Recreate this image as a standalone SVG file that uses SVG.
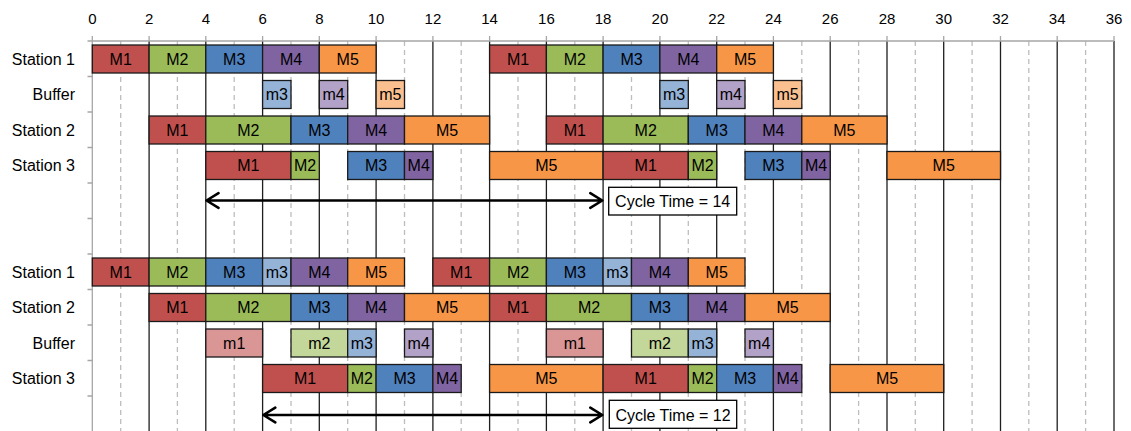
<svg xmlns="http://www.w3.org/2000/svg" width="1131" height="431" viewBox="0 0 1131 431">
  <style>
    text { font-family: "Liberation Sans", Arial, sans-serif; fill: #000; }
    .ax { font-size: 15px; text-anchor: middle; }
    .row { font-size: 16px; text-anchor: end; }
    .lb { font-size: 16px; text-anchor: middle; }
    .bar { stroke: #1a1a1a; stroke-width: 1.3; }
    .M1 { fill: #C0504D; } .M2 { fill: #9BBB59; } .M3 { fill: #4F81BD; } .M4 { fill: #8064A2; } .M5 { fill: #F79646; }
    .m1 { fill: #DA9694; } .m2 { fill: #C4D79B; } .m3 { fill: #95B3D7; } .m4 { fill: #B3A2C7; } .m5 { fill: #FAC090; }
    .even { stroke: #1f1f1f; stroke-width: 1.3; }
    .odd { stroke: #BDBDBD; stroke-width: 1.3; stroke-dasharray: 5 4; }
    .axis { stroke: #A6A6A6; stroke-width: 1.3; fill: none; }
    .arrow { stroke: #000; stroke-width: 2.6; fill: none; stroke-linecap: round; stroke-linejoin: round; }
    .note { fill: #fff; stroke: #000; stroke-width: 1.3; }
  </style>

  <!-- time axis and grid -->
  <g id="grid">
    <g class="ax">
      <text x="92.3" y="23.5">0</text><text x="149.1" y="23.5">2</text><text x="205.8" y="23.5">4</text>
      <text x="262.6" y="23.5">6</text><text x="319.3" y="23.5">8</text><text x="376.1" y="23.5">10</text>
      <text x="432.9" y="23.5">12</text><text x="489.6" y="23.5">14</text><text x="546.4" y="23.5">16</text>
      <text x="603.1" y="23.5">18</text><text x="659.9" y="23.5">20</text><text x="716.7" y="23.5">22</text>
      <text x="773.4" y="23.5">24</text><text x="830.2" y="23.5">26</text><text x="887.0" y="23.5">28</text>
      <text x="943.7" y="23.5">30</text><text x="1000.5" y="23.5">32</text><text x="1057.2" y="23.5">34</text>
      <text x="1114.0" y="23.5">36</text>
    </g>
    <path class="odd" d="M120.7 41V431M177.4 41V431M234.2 41V431M291.0 41V431M347.7 41V431M404.5 41V431M461.2 41V431M518.0 41V431M574.8 41V431M631.5 41V431M688.3 41V431M745.0 41V431M801.8 41V431M858.6 41V431M915.3 41V431M972.1 41V431M1028.8 41V431M1085.6 41V431"/>
    <path class="even" d="M149.1 41V431M205.8 41V431M262.6 41V431M319.3 41V431M376.1 41V431M432.9 41V431M489.6 41V431M546.4 41V431M603.1 41V431M659.9 41V431M716.7 41V431M773.4 41V431M830.2 41V431M887.0 41V431M943.7 41V431M1000.5 41V431M1057.2 41V431M1114.0 41V431"/>
    <path class="axis" d="M92.3 41H1114M92.3 41V431M92.3 36V41M149.1 36V41M205.8 36V41M262.6 36V41M319.3 36V41M376.1 36V41M432.9 36V41M489.6 36V41M546.4 36V41M603.1 36V41M659.9 36V41M716.7 36V41M773.4 36V41M830.2 36V41M887.0 36V41M943.7 36V41M1000.5 36V41M1057.2 36V41M1114.0 36V41"/>
    <path class="axis" d="M87.5 41H92.3M87.5 76.5H92.3M87.5 112H92.3M87.5 147.5H92.3M87.5 183H92.3M87.5 218.5H92.3M87.5 254H92.3M87.5 289.5H92.3M87.5 325H92.3M87.5 360.5H92.3M87.5 396H92.3"/>
  </g>

  <!-- row names -->
  <g id="row-names" class="row">
    <text x="75" y="64.5">Station 1</text>
    <text x="75" y="100">Buffer</text>
    <text x="75" y="135.5">Station 2</text>
    <text x="75" y="171">Station 3</text>
    <text x="75" y="277.5">Station 1</text>
    <text x="75" y="313">Station 2</text>
    <text x="75" y="348.5">Buffer</text>
    <text x="75" y="384">Station 3</text>
  </g>

  <!-- schedule A: station 1 -->
  <g id="a-s1">
    <g id="a-s1-M1"><rect class="bar M1" x="92.3" y="45" width="56.8" height="28"/><text class="lb" x="120.7" y="64.5">M1</text></g>
    <g id="a-s1-M2"><rect class="bar M2" x="149.1" y="45" width="56.7" height="28"/><text class="lb" x="177.4" y="64.5">M2</text></g>
    <g id="a-s1-M3"><rect class="bar M3" x="205.8" y="45" width="56.8" height="28"/><text class="lb" x="234.2" y="64.5">M3</text></g>
    <g id="a-s1-M4"><rect class="bar M4" x="262.6" y="45" width="56.7" height="28"/><text class="lb" x="291.0" y="64.5">M4</text></g>
    <g id="a-s1-M5"><rect class="bar M5" x="319.3" y="45" width="56.8" height="28"/><text class="lb" x="347.7" y="64.5">M5</text></g>
    <g id="a-s1-M1b"><rect class="bar M1" x="489.6" y="45" width="56.8" height="28"/><text class="lb" x="518.0" y="64.5">M1</text></g>
    <g id="a-s1-M2b"><rect class="bar M2" x="546.4" y="45" width="56.7" height="28"/><text class="lb" x="574.8" y="64.5">M2</text></g>
    <g id="a-s1-M3b"><rect class="bar M3" x="603.1" y="45" width="56.8" height="28"/><text class="lb" x="631.5" y="64.5">M3</text></g>
    <g id="a-s1-M4b"><rect class="bar M4" x="659.9" y="45" width="56.8" height="28"/><text class="lb" x="688.3" y="64.5">M4</text></g>
    <g id="a-s1-M5b"><rect class="bar M5" x="716.7" y="45" width="56.7" height="28"/><text class="lb" x="745.0" y="64.5">M5</text></g>
  </g>

  <!-- schedule A: buffer -->
  <g id="a-buf">
    <g id="a-buf-m3"><rect class="bar m3" x="262.6" y="80.5" width="28.4" height="28"/><text class="lb" x="276.8" y="100">m3</text></g>
    <g id="a-buf-m4"><rect class="bar m4" x="319.3" y="80.5" width="28.4" height="28"/><text class="lb" x="333.5" y="100">m4</text></g>
    <g id="a-buf-m5"><rect class="bar m5" x="376.1" y="80.5" width="28.4" height="28"/><text class="lb" x="390.3" y="100">m5</text></g>
    <g id="a-buf-m3b"><rect class="bar m3" x="659.9" y="80.5" width="28.4" height="28"/><text class="lb" x="674.1" y="100">m3</text></g>
    <g id="a-buf-m4b"><rect class="bar m4" x="716.7" y="80.5" width="28.3" height="28"/><text class="lb" x="730.9" y="100">m4</text></g>
    <g id="a-buf-m5b"><rect class="bar m5" x="773.4" y="80.5" width="28.4" height="28"/><text class="lb" x="787.6" y="100">m5</text></g>
  </g>

  <!-- schedule A: station 2 -->
  <g id="a-s2">
    <g id="a-s2-M1"><rect class="bar M1" x="149.1" y="116" width="56.7" height="28"/><text class="lb" x="177.4" y="135.5">M1</text></g>
    <g id="a-s2-M2"><rect class="bar M2" x="205.8" y="116" width="85.2" height="28"/><text class="lb" x="248.4" y="135.5">M2</text></g>
    <g id="a-s2-M3"><rect class="bar M3" x="291.0" y="116" width="56.7" height="28"/><text class="lb" x="319.3" y="135.5">M3</text></g>
    <g id="a-s2-M4"><rect class="bar M4" x="347.7" y="116" width="56.8" height="28"/><text class="lb" x="376.1" y="135.5">M4</text></g>
    <g id="a-s2-M5"><rect class="bar M5" x="404.5" y="116" width="85.1" height="28"/><text class="lb" x="447.0" y="135.5">M5</text></g>
    <g id="a-s2-M1b"><rect class="bar M1" x="546.4" y="116" width="56.7" height="28"/><text class="lb" x="574.8" y="135.5">M1</text></g>
    <g id="a-s2-M2b"><rect class="bar M2" x="603.1" y="116" width="85.2" height="28"/><text class="lb" x="645.7" y="135.5">M2</text></g>
    <g id="a-s2-M3b"><rect class="bar M3" x="688.3" y="116" width="56.7" height="28"/><text class="lb" x="716.7" y="135.5">M3</text></g>
    <g id="a-s2-M4b"><rect class="bar M4" x="745.0" y="116" width="56.8" height="28"/><text class="lb" x="773.4" y="135.5">M4</text></g>
    <g id="a-s2-M5b"><rect class="bar M5" x="801.8" y="116" width="85.2" height="28"/><text class="lb" x="844.4" y="135.5">M5</text></g>
  </g>

  <!-- schedule A: station 3 -->
  <g id="a-s3">
    <g id="a-s3-M1"><rect class="bar M1" x="205.8" y="151.5" width="85.2" height="28"/><text class="lb" x="248.4" y="171">M1</text></g>
    <g id="a-s3-M2"><rect class="bar M2" x="291.0" y="151.5" width="28.3" height="28"/><text class="lb" x="305.1" y="171">M2</text></g>
    <g id="a-s3-M3"><rect class="bar M3" x="347.7" y="151.5" width="56.8" height="28"/><text class="lb" x="376.1" y="171">M3</text></g>
    <g id="a-s3-M4"><rect class="bar M4" x="404.5" y="151.5" width="28.4" height="28"/><text class="lb" x="418.7" y="171">M4</text></g>
    <g id="a-s3-M5"><rect class="bar M5" x="489.6" y="151.5" width="113.5" height="28"/><text class="lb" x="546.4" y="171">M5</text></g>
    <g id="a-s3-M1b"><rect class="bar M1" x="603.1" y="151.5" width="85.2" height="28"/><text class="lb" x="645.7" y="171">M1</text></g>
    <g id="a-s3-M2b"><rect class="bar M2" x="688.3" y="151.5" width="28.4" height="28"/><text class="lb" x="702.5" y="171">M2</text></g>
    <g id="a-s3-M3b"><rect class="bar M3" x="745.0" y="151.5" width="56.8" height="28"/><text class="lb" x="773.4" y="171">M3</text></g>
    <g id="a-s3-M4b"><rect class="bar M4" x="801.8" y="151.5" width="28.4" height="28"/><text class="lb" x="816.0" y="171">M4</text></g>
    <g id="a-s3-M5b"><rect class="bar M5" x="887.0" y="151.5" width="113.5" height="28"/><text class="lb" x="943.7" y="171">M5</text></g>
  </g>

  <!-- schedule B: station 1 -->
  <g id="b-s1">
    <g id="b-s1-M1"><rect class="bar M1" x="92.3" y="258" width="56.8" height="28"/><text class="lb" x="120.7" y="277.5">M1</text></g>
    <g id="b-s1-M2"><rect class="bar M2" x="149.1" y="258" width="56.7" height="28"/><text class="lb" x="177.4" y="277.5">M2</text></g>
    <g id="b-s1-M3"><rect class="bar M3" x="205.8" y="258" width="56.8" height="28"/><text class="lb" x="234.2" y="277.5">M3</text></g>
    <g id="b-s1-m3"><rect class="bar m3" x="262.6" y="258" width="28.4" height="28"/><text class="lb" x="276.8" y="277.5">m3</text></g>
    <g id="b-s1-M4"><rect class="bar M4" x="291.0" y="258" width="56.7" height="28"/><text class="lb" x="319.3" y="277.5">M4</text></g>
    <g id="b-s1-M5"><rect class="bar M5" x="347.7" y="258" width="56.8" height="28"/><text class="lb" x="376.1" y="277.5">M5</text></g>
    <g id="b-s1-M1b"><rect class="bar M1" x="432.9" y="258" width="56.7" height="28"/><text class="lb" x="461.2" y="277.5">M1</text></g>
    <g id="b-s1-M2b"><rect class="bar M2" x="489.6" y="258" width="56.8" height="28"/><text class="lb" x="518.0" y="277.5">M2</text></g>
    <g id="b-s1-M3b"><rect class="bar M3" x="546.4" y="258" width="56.7" height="28"/><text class="lb" x="574.8" y="277.5">M3</text></g>
    <g id="b-s1-m3b"><rect class="bar m3" x="603.1" y="258" width="28.4" height="28"/><text class="lb" x="617.3" y="277.5">m3</text></g>
    <g id="b-s1-M4b"><rect class="bar M4" x="631.5" y="258" width="56.8" height="28"/><text class="lb" x="659.9" y="277.5">M4</text></g>
    <g id="b-s1-M5b"><rect class="bar M5" x="688.3" y="258" width="56.7" height="28"/><text class="lb" x="716.7" y="277.5">M5</text></g>
  </g>

  <!-- schedule B: station 2 -->
  <g id="b-s2">
    <g id="b-s2-M1"><rect class="bar M1" x="149.1" y="293.5" width="56.7" height="28"/><text class="lb" x="177.4" y="313">M1</text></g>
    <g id="b-s2-M2"><rect class="bar M2" x="205.8" y="293.5" width="85.2" height="28"/><text class="lb" x="248.4" y="313">M2</text></g>
    <g id="b-s2-M3"><rect class="bar M3" x="291.0" y="293.5" width="56.7" height="28"/><text class="lb" x="319.3" y="313">M3</text></g>
    <g id="b-s2-M4"><rect class="bar M4" x="347.7" y="293.5" width="56.8" height="28"/><text class="lb" x="376.1" y="313">M4</text></g>
    <g id="b-s2-M5"><rect class="bar M5" x="404.5" y="293.5" width="85.1" height="28"/><text class="lb" x="447.0" y="313">M5</text></g>
    <g id="b-s2-M1b"><rect class="bar M1" x="489.6" y="293.5" width="56.8" height="28"/><text class="lb" x="518.0" y="313">M1</text></g>
    <g id="b-s2-M2b"><rect class="bar M2" x="546.4" y="293.5" width="85.1" height="28"/><text class="lb" x="589.0" y="313">M2</text></g>
    <g id="b-s2-M3b"><rect class="bar M3" x="631.5" y="293.5" width="56.8" height="28"/><text class="lb" x="659.9" y="313">M3</text></g>
    <g id="b-s2-M4b"><rect class="bar M4" x="688.3" y="293.5" width="56.7" height="28"/><text class="lb" x="716.7" y="313">M4</text></g>
    <g id="b-s2-M5b"><rect class="bar M5" x="745.0" y="293.5" width="85.2" height="28"/><text class="lb" x="787.6" y="313">M5</text></g>
  </g>

  <!-- schedule B: buffer -->
  <g id="b-buf">
    <g id="b-buf-m1"><rect class="bar m1" x="205.8" y="329" width="56.8" height="28"/><text class="lb" x="234.2" y="348.5">m1</text></g>
    <g id="b-buf-m2"><rect class="bar m2" x="291.0" y="329" width="56.7" height="28"/><text class="lb" x="319.3" y="348.5">m2</text></g>
    <g id="b-buf-m3"><rect class="bar m3" x="347.7" y="329" width="28.4" height="28"/><text class="lb" x="361.9" y="348.5">m3</text></g>
    <g id="b-buf-m4"><rect class="bar m4" x="404.5" y="329" width="28.4" height="28"/><text class="lb" x="418.7" y="348.5">m4</text></g>
    <g id="b-buf-m1b"><rect class="bar m1" x="546.4" y="329" width="56.7" height="28"/><text class="lb" x="574.8" y="348.5">m1</text></g>
    <g id="b-buf-m2b"><rect class="bar m2" x="631.5" y="329" width="56.8" height="28"/><text class="lb" x="659.9" y="348.5">m2</text></g>
    <g id="b-buf-m3b"><rect class="bar m3" x="688.3" y="329" width="28.4" height="28"/><text class="lb" x="702.5" y="348.5">m3</text></g>
    <g id="b-buf-m4b"><rect class="bar m4" x="745.0" y="329" width="28.4" height="28"/><text class="lb" x="759.2" y="348.5">m4</text></g>
  </g>

  <!-- schedule B: station 3 -->
  <g id="b-s3">
    <g id="b-s3-M1"><rect class="bar M1" x="262.6" y="364.5" width="85.1" height="28"/><text class="lb" x="305.1" y="384">M1</text></g>
    <g id="b-s3-M2"><rect class="bar M2" x="347.7" y="364.5" width="28.4" height="28"/><text class="lb" x="361.9" y="384">M2</text></g>
    <g id="b-s3-M3"><rect class="bar M3" x="376.1" y="364.5" width="56.8" height="28"/><text class="lb" x="404.5" y="384">M3</text></g>
    <g id="b-s3-M4"><rect class="bar M4" x="432.9" y="364.5" width="28.3" height="28"/><text class="lb" x="447.0" y="384">M4</text></g>
    <g id="b-s3-M5"><rect class="bar M5" x="489.6" y="364.5" width="113.5" height="28"/><text class="lb" x="546.4" y="384">M5</text></g>
    <g id="b-s3-M1b"><rect class="bar M1" x="603.1" y="364.5" width="85.2" height="28"/><text class="lb" x="645.7" y="384">M1</text></g>
    <g id="b-s3-M2b"><rect class="bar M2" x="688.3" y="364.5" width="28.4" height="28"/><text class="lb" x="702.5" y="384">M2</text></g>
    <g id="b-s3-M3b"><rect class="bar M3" x="716.7" y="364.5" width="56.7" height="28"/><text class="lb" x="745.0" y="384">M3</text></g>
    <g id="b-s3-M4b"><rect class="bar M4" x="773.4" y="364.5" width="28.4" height="28"/><text class="lb" x="787.6" y="384">M4</text></g>
    <g id="b-s3-M5b"><rect class="bar M5" x="830.2" y="364.5" width="113.5" height="28"/><text class="lb" x="887.0" y="384">M5</text></g>
  </g>

  <!-- cycle-time spans -->
  <g id="connectors">
    <path class="arrow" d="M206.5 200.5H602.3M218.5 193.2L206.5 200.5L218.5 207.8M590.3 193.2L602.3 200.5L590.3 207.8"/>
    <path class="arrow" d="M263.3 415H602.3M275.3 407.7L263.3 415L275.3 422.3M590.3 407.7L602.3 415L590.3 422.3"/>
  </g>

  <g id="cycle-a">
    <rect class="note" x="608.7" y="187.3" width="128" height="27.7"/>
    <text class="lb" x="672.7" y="207">Cycle Time = 14</text>
  </g>
  <g id="cycle-b">
    <rect class="note" x="609.3" y="400.3" width="127.4" height="28"/>
    <text class="lb" x="673" y="420.5">Cycle Time = 12</text>
  </g>
</svg>
